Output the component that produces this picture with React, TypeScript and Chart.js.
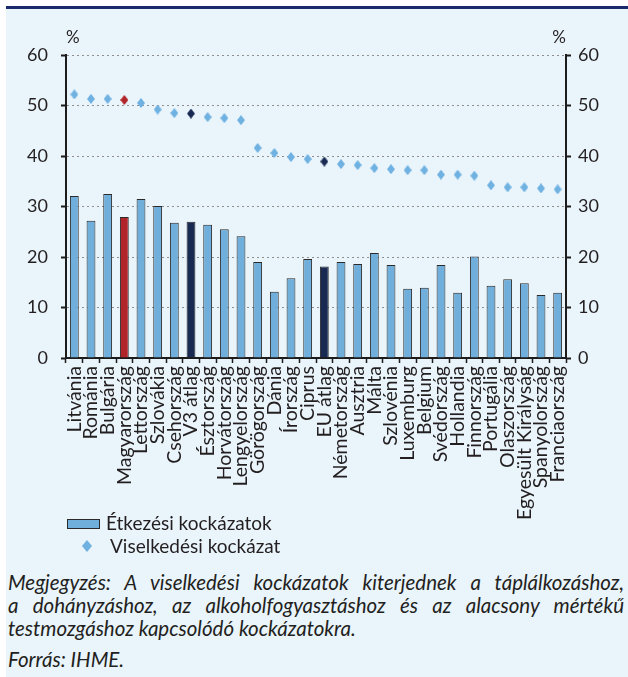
import React, { useEffect, useRef } from "react";
import { Chart, registerables } from "chart.js";

Chart.register(...registerables);

const categories = [
  "Litvánia", "Románia", "Bulgária", "Magyarország", "Lettország", "Szlovákia",
  "Csehország", "V3 átlag", "Észtország", "Horvátország", "Lengyelország",
  "Görögország", "Dánia", "Írország", "Ciprus", "EU átlag", "Németország",
  "Ausztria", "Málta", "Szlovénia", "Luxemburg", "Belgium", "Svédország",
  "Hollandia", "Finnország", "Portugália", "Olaszország", "Egyesült Királyság",
  "Spanyolország", "Franciaország",
];

const etkezesi = [
  32.1, 27.2, 32.5, 27.9, 31.5, 30.1, 26.8, 27.0, 26.4, 25.5, 24.1, 19.0, 13.1,
  15.8, 19.6, 18.1, 19.0, 18.6, 20.8, 18.4, 13.7, 13.9, 18.4, 12.9, 20.1, 14.3,
  15.6, 14.8, 12.5, 12.9,
];

const viselkedesi = [
  52.2, 51.3, 51.3, 51.1, 50.5, 49.2, 48.5, 48.4, 47.7, 47.5, 47.1, 41.6, 40.6,
  39.8, 39.4, 38.9, 38.4, 38.2, 37.6, 37.4, 37.2, 37.2, 36.3, 36.3, 36.1, 34.2,
  33.8, 33.8, 33.6, 33.4,
];

const yTicks = [0, 10, 20, 30, 40, 50, 60];
const unitLabel = "%";
const highlightCountry = "Magyarország";
const averageLabels = ["V3 átlag", "EU átlag"];
const legendLabels = ["Étkezési kockázatok", "Viselkedési kockázat"];
const noteLines = [
  "Megjegyzés: A viselkedési kockázatok kiterjednek a táplálkozáshoz,",
  "a dohányzáshoz, az alkoholfogyasztáshoz és az alacsony mértékű",
  "testmozgáshoz kapcsolódó kockázatokra.",
];
const sourceText = "Forrás: IHME.";

const BAR_LIGHT = "#70AEDB";
const DIA_LIGHT = "#6FB1E1";
const RED = "#B1242A";
const NAVY = "#182A52";
const AXIS = "#1c1c1c";
const TEXT = "#231F20";
const FONT = "Lato";

function colorFor(cat: string, light: string) {
  if (cat === highlightCountry) return RED;
  if (averageLabels.includes(cat)) return NAVY;
  return light;
}

function diamond(color: string, w: number, h: number) {
  const c = document.createElement("canvas");
  c.width = w;
  c.height = h;
  const ctx = c.getContext("2d")!;
  ctx.fillStyle = color;
  ctx.beginPath();
  ctx.moveTo(w / 2, 0);
  ctx.lineTo(w, h / 2);
  ctx.lineTo(w / 2, h);
  ctx.lineTo(0, h / 2);
  ctx.closePath();
  ctx.fill();
  return c;
}

const pctPlugin = {
  id: "pctLabels",
  afterDraw(chart: any) {
    const { ctx, chartArea } = chart;
    ctx.save();
    ctx.font = `17px ${FONT}`;
    ctx.fillStyle = TEXT;
    ctx.textBaseline = "middle";
    ctx.textAlign = "left";
    ctx.fillText(unitLabel, chartArea.left, 29);
    ctx.textAlign = "right";
    ctx.fillText(unitLabel, chartArea.right, 29);
    ctx.restore();
  },
};

export default function App() {
  const ref = useRef<HTMLCanvasElement | null>(null);

  useEffect(() => {
    if (!ref.current) return;
    const dLight = diamond(DIA_LIGHT, 8, 10);
    const dRed = diamond(RED, 8, 10);
    const dNavy = diamond(NAVY, 8, 10);
    const pointStyles = categories.map((c) =>
      c === highlightCountry ? dRed : averageLabels.includes(c) ? dNavy : dLight
    );
    const barColors = categories.map((c) => colorFor(c, BAR_LIGHT));

    const setTicks = (scale: any) => {
      scale.ticks = yTicks.map((v) => ({ value: v }));
    };

    const chart = new Chart(ref.current, {
      type: "bar",
      data: {
        labels: categories,
        datasets: [
          {
            type: "line",
            label: legendLabels[1],
            data: viselkedesi,
            showLine: false,
            pointStyle: pointStyles as any,
            pointRadius: 5,
            pointHoverRadius: 5,
            yAxisID: "y",
          } as any,
          {
            type: "bar",
            label: legendLabels[0],
            data: etkezesi,
            backgroundColor: barColors,
            borderColor: "#2a2a2a",
            borderWidth: 1,
            categoryPercentage: 1,
            barPercentage: 0.53,
            yAxisID: "y",
          },
        ],
      },
      options: {
        responsive: false,
        animation: false,
        devicePixelRatio: 1,
        layout: { padding: { top: 46, left: 0, right: 0, bottom: 0 } },
        plugins: {
          legend: { display: false },
          tooltip: { enabled: false },
        },
        scales: {
          x: {
            type: "category",
            offset: true,
            afterFit: (scale: any) => {
              scale.height = 171;
            },
            grid: {
              offset: true,
              drawOnChartArea: false,
              drawTicks: true,
              tickLength: 5,
              tickColor: AXIS,
              tickWidth: 1.5,
            },
            border: { display: true, color: AXIS, width: 2 },
            ticks: {
              autoSkip: false,
              minRotation: 90,
              maxRotation: 90,
              padding: 3,
              color: TEXT,
              font: { family: FONT, size: 19.5 },
            },
          },
          y: {
            position: "left",
            min: 0,
            max: 60,
            afterBuildTicks: setTicks,
            afterFit: (scale: any) => {
              scale.width = 60;
            },
            grid: {
              drawOnChartArea: true,
              drawTicks: true,
              tickLength: 5,
              tickColor: AXIS,
              tickWidth: 2,
              color: (ctx: any) =>
                ctx.tick && ctx.tick.value === 0 ? "rgba(0,0,0,0)" : "#8f8f8f",
              lineWidth: 1,
            },
            border: { display: true, color: AXIS, width: 2, dash: [2, 3] },
            ticks: {
              padding: 13,
              color: TEXT,
              font: { family: FONT, size: 18 },
            },
          },
          y2: {
            position: "right",
            min: 0,
            max: 60,
            afterBuildTicks: setTicks,
            afterFit: (scale: any) => {
              scale.width = 62;
            },
            grid: {
              drawOnChartArea: false,
              drawTicks: true,
              tickLength: 5,
              tickColor: AXIS,
              tickWidth: 2,
            },
            border: { display: true, color: AXIS, width: 2 },
            ticks: {
              padding: 7,
              color: TEXT,
              font: { family: FONT, size: 18 },
            },
          },
        },
      },
      plugins: [pctPlugin],
    });
    return () => chart.destroy();
  }, []);

  const lineStyle: React.CSSProperties = {
    position: "absolute",
    left: 2,
    width: 616,
    fontStyle: "italic",
    fontSize: 20.5,
    lineHeight: "22px",
    whiteSpace: "nowrap",
  };

  return (
    <div
      style={{
        position: "absolute",
        left: 6,
        top: 6,
        width: 622,
        height: 671,
        boxSizing: "border-box",
        background: "#E9F4FB",
        borderTop: "3px solid #1B2A6B",
        fontFamily: FONT,
        color: TEXT,
        overflow: "hidden",
      }}
    >
      <canvas
        ref={ref}
        width={622}
        height={520}
        style={{ position: "absolute", left: 0, top: 0, display: "block" }}
      />
      <div
        style={{
          position: "absolute",
          left: 61,
          top: 510,
          width: 31,
          height: 8,
          background: BAR_LIGHT,
          border: "1px solid #2a2a2a",
        }}
      />
      <div
        style={{
          position: "absolute",
          left: 100,
          top: 504,
          fontSize: 19,
          lineHeight: "20px",
          whiteSpace: "nowrap",
        }}
      >
        {legendLabels[0]}
      </div>
      <svg
        width={10}
        height={12}
        style={{ position: "absolute", left: 76, top: 531 }}
      >
        <polygon points="5,0 10,6 5,12 0,6" fill={DIA_LIGHT} />
      </svg>
      <div
        style={{
          position: "absolute",
          left: 104,
          top: 527,
          fontSize: 19,
          lineHeight: "20px",
          whiteSpace: "nowrap",
        }}
      >
        {legendLabels[1]}
      </div>
      <div style={{ ...lineStyle, top: 562, textAlign: "justify", textAlignLast: "justify", whiteSpace: "normal" }}>
        {noteLines[0]}
      </div>
      <div style={{ ...lineStyle, top: 585, textAlign: "justify", textAlignLast: "justify", whiteSpace: "normal" }}>
        {noteLines[1]}
      </div>
      <div style={{ ...lineStyle, top: 608 }}>{noteLines[2]}</div>
      <div style={{ ...lineStyle, top: 639 }}>{sourceText}</div>
    </div>
  );
}
